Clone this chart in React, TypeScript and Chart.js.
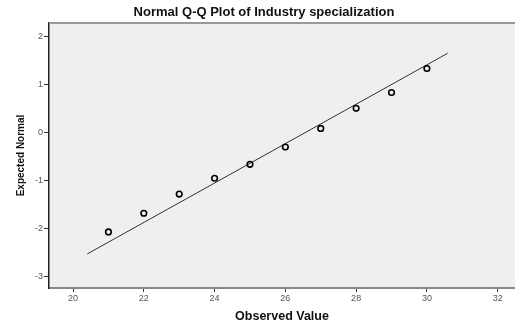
import React, { useEffect, useRef } from "react";
import { Chart, registerables } from "chart.js";

Chart.register(...registerables);

const chartTitle = "Normal Q-Q Plot of Industry specialization";
const xAxisTitle = "Observed Value";
const yAxisTitle = "Expected Normal";

const observed = [21, 22, 23, 24, 25, 26, 27, 28, 29, 30];
const expected = [-2.08, -1.69, -1.29, -0.96, -0.67, -0.31, 0.08, 0.5, 0.83, 1.33];

const lineX = [20.4, 30.59];
const lineY = [-2.54, 1.65];

const xTicks = [20, 22, 24, 26, 28, 30, 32];
const yTicks = [-3, -2, -1, 0, 1, 2];

const FONT = "'Liberation Sans', Arial, sans-serif";

const decorPlugin = {
  id: "decor",
  beforeDraw(chart: any) {
    const { ctx, chartArea } = chart;
    ctx.save();
    ctx.fillStyle = "#efefef";
    ctx.fillRect(chartArea.left, chartArea.top, chartArea.right - chartArea.left, chartArea.bottom - chartArea.top);
    ctx.restore();
  },
  afterDraw(chart: any) {
    const { ctx, chartArea } = chart;
    ctx.save();
    ctx.strokeStyle = "#999999";
    ctx.lineWidth = 2;
    ctx.beginPath();
    ctx.moveTo(chartArea.left, chartArea.top);
    ctx.lineTo(chartArea.right, chartArea.top);
    ctx.stroke();
    ctx.fillStyle = "#111111";
    ctx.font = `bold 13px ${FONT}`;
    ctx.textAlign = "center";
    ctx.textBaseline = "middle";
    ctx.fillText(chartTitle, 264, 12);
    ctx.restore();
  },
};

export default function App() {
  const ref = useRef<HTMLCanvasElement>(null);
  useEffect(() => {
    document.body.style.margin = "0";
    const ctx = ref.current!;
    const chart = new Chart(ctx, {
      type: "scatter",
      data: {
        datasets: [
          {
            label: "points",
            data: observed.map((x, i) => ({ x, y: expected[i] })),
            pointRadius: 2.8,
            pointBorderWidth: 1.6,
            pointBorderColor: "#000000",
            pointBackgroundColor: "rgba(0,0,0,0)",
            showLine: false,
          },
          {
            label: "fit",
            data: lineX.map((x, i) => ({ x, y: lineY[i] })),
            showLine: true,
            borderColor: "#333333",
            borderWidth: 1,
            pointRadius: 0,
          },
        ],
      },
      options: {
        animation: false,
        responsive: false,
        devicePixelRatio: 1,
        layout: { autoPadding: false, padding: { top: 23, right: 0, left: 0, bottom: 0 } },
        plugins: { legend: { display: false }, tooltip: { enabled: false }, title: { display: false } },
        scales: {
          x: {
            type: "linear",
            min: 19.32,
            max: 32.49,
            afterBuildTicks: (s: any) => {
              s.ticks = xTicks.map((v) => ({ value: v }));
            },
            afterFit: (s: any) => {
              s.height = 36;
              s.paddingRight = 0;
              s.paddingLeft = 0;
            },
            grid: { drawOnChartArea: false, tickLength: 4, tickColor: "#333333", tickWidth: 1 },
            border: { color: "#888888", width: 2 },
            ticks: { color: "#555555", font: { family: FONT, size: 9 }, padding: 1, maxRotation: 0, autoSkip: false },
            title: { display: true, text: xAxisTitle, color: "#111111", font: { family: FONT, size: 12.5, weight: "bold" }, padding: { top: 2, bottom: 0 } },
          },
          y: {
            type: "linear",
            min: -3.25,
            max: 2.28,
            afterBuildTicks: (s: any) => {
              s.ticks = yTicks.map((v) => ({ value: v }));
            },
            afterFit: (s: any) => {
              s.width = 49;
              s.paddingTop = 0;
              s.paddingBottom = 0;
            },
            grid: { drawOnChartArea: false, tickLength: 5, tickColor: "#333333", tickWidth: 1 },
            border: { color: "#222222", width: 1.5 },
            ticks: { color: "#555555", font: { family: FONT, size: 9 }, padding: 1, autoSkip: false },
            title: { display: true, text: yAxisTitle, color: "#111111", font: { family: FONT, size: 10, weight: "bold" }, padding: { top: 15, bottom: 0 } },
          },
        },
      },
      plugins: [decorPlugin],
    } as any);
    return () => chart.destroy();
  }, []);
  return <canvas ref={ref} width={515} height={324} style={{ display: "block" }} />;
}
